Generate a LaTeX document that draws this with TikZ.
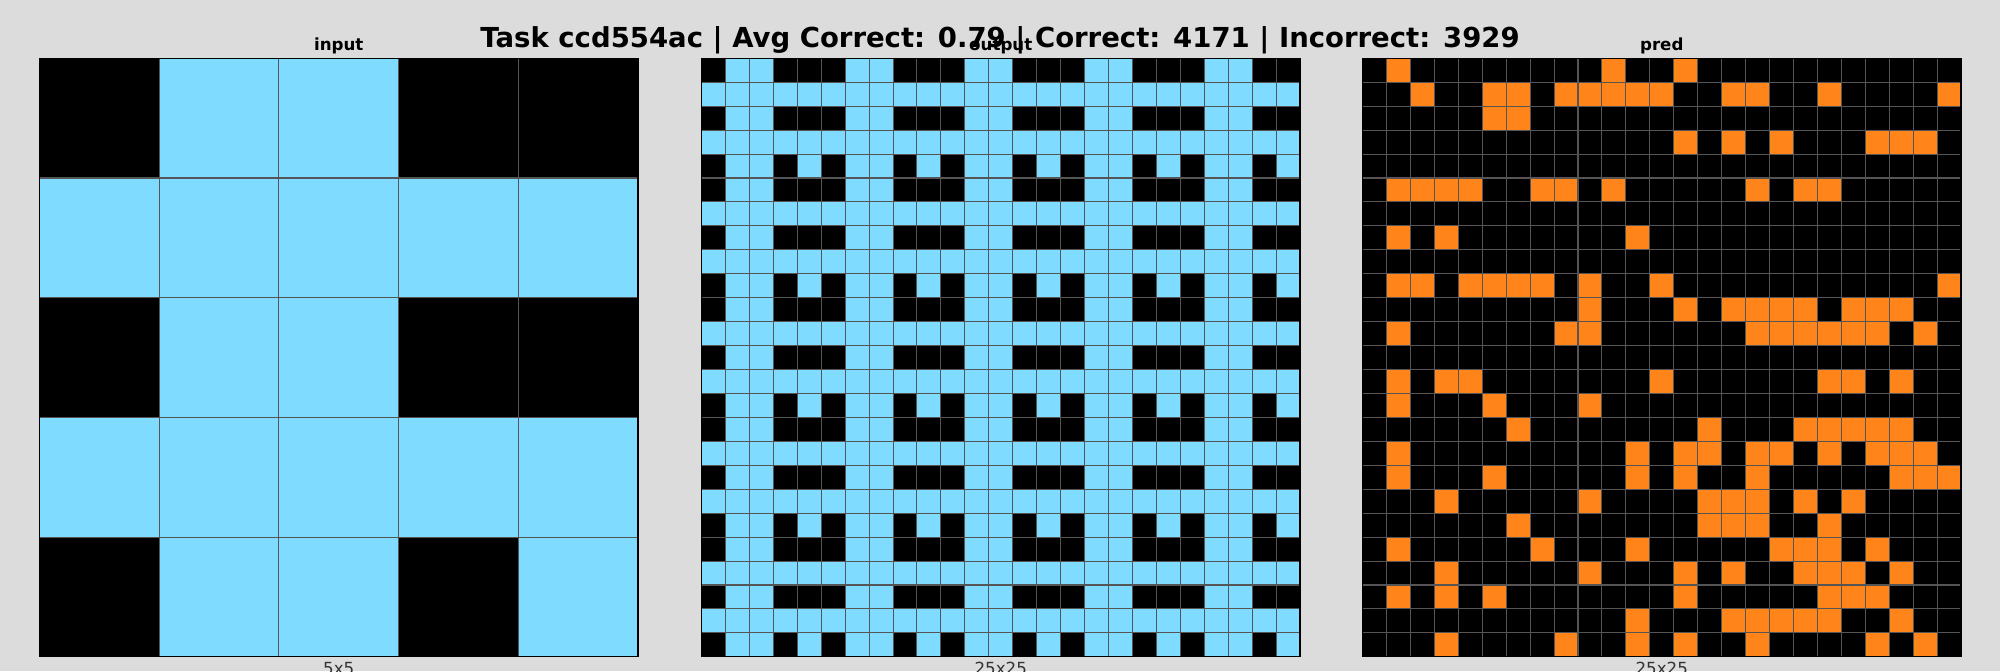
\documentclass[tikz,border=0pt]{standalone}
\usepackage{fontspec}
\setmainfont{DejaVu Sans}
\definecolor{bg}{HTML}{DCDCDC}
\definecolor{sky}{HTML}{7FDBFF}
\definecolor{arcorange}{HTML}{FF851B}
\definecolor{gridgray}{HTML}{555555}
\definecolor{labelgray}{HTML}{333333}
\begin{document}
\begin{tikzpicture}[x=0.01in,y=-0.01in,
  gridline/.style={draw=gridgray,line width=0.75bp},
  frame/.style={draw=black,line width=0.9bp},
  titletext/.style={inner sep=0,anchor=base,font=\fontsize{19.8bp}{24bp}\selectfont\bfseries},
  subtitle/.style={inner sep=0,anchor=base,font=\fontsize{12bp}{14bp}\selectfont\bfseries},
  xlab/.style={inner sep=0,anchor=base,text=labelgray,font=\fontsize{12bp}{14bp}\selectfont}]
\fill[bg] (0,0) rectangle (2000,671);
\useasboundingbox (0,0) rectangle (2000,671);
\def\gy{58.3}
\def\gs{598.5}
% ---------- input grid ----------
\def\ix{39.5}
\def\ic{119.7}
\fill[sky] (\ix,\gy) rectangle ++(\gs,\gs);
\foreach \r/\c in {0/0,0/3,0/4,2/0,2/3,2/4,4/0,4/3}
  \fill[black] ({\ix+\c*\ic},{\gy+\r*\ic}) rectangle ++(\ic,\ic);
\foreach \k in {1,...,4} {
  \draw[gridline] ({\ix+\k*\ic},\gy) -- ++(0,\gs);
  \draw[gridline] (\ix,{\gy+\k*\ic}) -- ++(\gs,0);
}
\draw[frame] (\ix,\gy) rectangle ++(\gs,\gs);
% ---------- output grid ----------
\def\ox{701.5}
\def\cc{23.94}
\fill[sky] (\ox,\gy) rectangle ++(\gs,\gs);
\foreach \i in {0,...,4} {
  \foreach \j in {0,...,4} {
    \foreach \r/\c in {0/0,0/3,0/4,2/0,2/3,2/4,4/0,4/3}
      \fill[black] ({\ox+(\j*5+\c)*\cc},{\gy+(\i*5+\r)*\cc}) rectangle ++(\cc,\cc);
  }
}
\foreach \k in {1,...,24} {
  \draw[gridline] ({\ox+\k*\cc},\gy) -- ++(0,\gs);
  \draw[gridline] (\ox,{\gy+\k*\cc}) -- ++(\gs,0);
}
\draw[frame] (\ox,\gy) rectangle ++(\gs,\gs);
% ---------- pred grid ----------
\def\px{1362.5}
\fill[black] (\px,\gy) rectangle ++(\gs,\gs);
\foreach \r/\c in {0/1,0/10,0/13,
  1/2,1/5,1/6,1/8,1/9,1/10,1/11,1/12,1/15,1/16,1/19,1/24,
  2/5,2/6,
  3/13,3/15,3/17,3/21,3/22,3/23,
  5/1,5/2,5/3,5/4,5/7,5/8,5/10,5/16,5/18,5/19,
  7/1,7/3,7/11,
  9/1,9/2,9/4,9/5,9/6,9/7,9/9,9/12,9/24,
  10/9,10/13,10/15,10/16,10/17,10/18,10/20,10/21,10/22,
  11/1,11/8,11/9,11/16,11/17,11/18,11/19,11/20,11/21,11/23,
  13/1,13/3,13/4,13/12,13/19,13/20,13/22,
  14/1,14/5,14/9,
  15/6,15/14,15/18,15/19,15/20,15/21,15/22,
  16/1,16/11,16/13,16/14,16/16,16/17,16/19,16/21,16/22,16/23,
  17/1,17/5,17/11,17/13,17/16,17/22,17/23,17/24,
  18/3,18/9,18/14,18/15,18/16,18/18,18/20,
  19/6,19/14,19/15,19/16,19/19,
  20/1,20/7,20/11,20/17,20/18,20/19,20/21,
  21/3,21/9,21/13,21/15,21/18,21/19,21/20,21/22,
  22/1,22/3,22/5,22/13,22/19,22/20,22/21,
  23/11,23/15,23/16,23/17,23/18,23/19,23/22,
  24/3,24/8,24/11,24/13,24/16,24/21,24/23}
  \fill[arcorange] ({\px+\c*\cc},{\gy+\r*\cc}) rectangle ++(\cc,\cc);
\foreach \k in {1,...,24} {
  \draw[gridline] ({\px+\k*\cc},\gy) -- ++(0,\gs);
  \draw[gridline] (\px,{\gy+\k*\cc}) -- ++(\gs,0);
}
\draw[frame] (\px,\gy) rectangle ++(\gs,\gs);
% ---------- texts ----------
\node[subtitle] (tin) at (338.75,50.7) {input};
\node[subtitle] (tout) at (1000.75,50.7) {output};
\node[subtitle] (tpred) at (1661.75,50.7) {pred};
\node[xlab] (xin) at (338.75,674) {5x5};
\node[xlab] (xout) at (1000.75,674) {25x25};
\node[xlab] (xpred) at (1661.75,674) {25x25};
\node[titletext] (title) at (1000,47) {Task ccd554ac | Avg Correct: 0.79 | Correct: 4171 | Incorrect: 3929};
\end{tikzpicture}
\end{document}
